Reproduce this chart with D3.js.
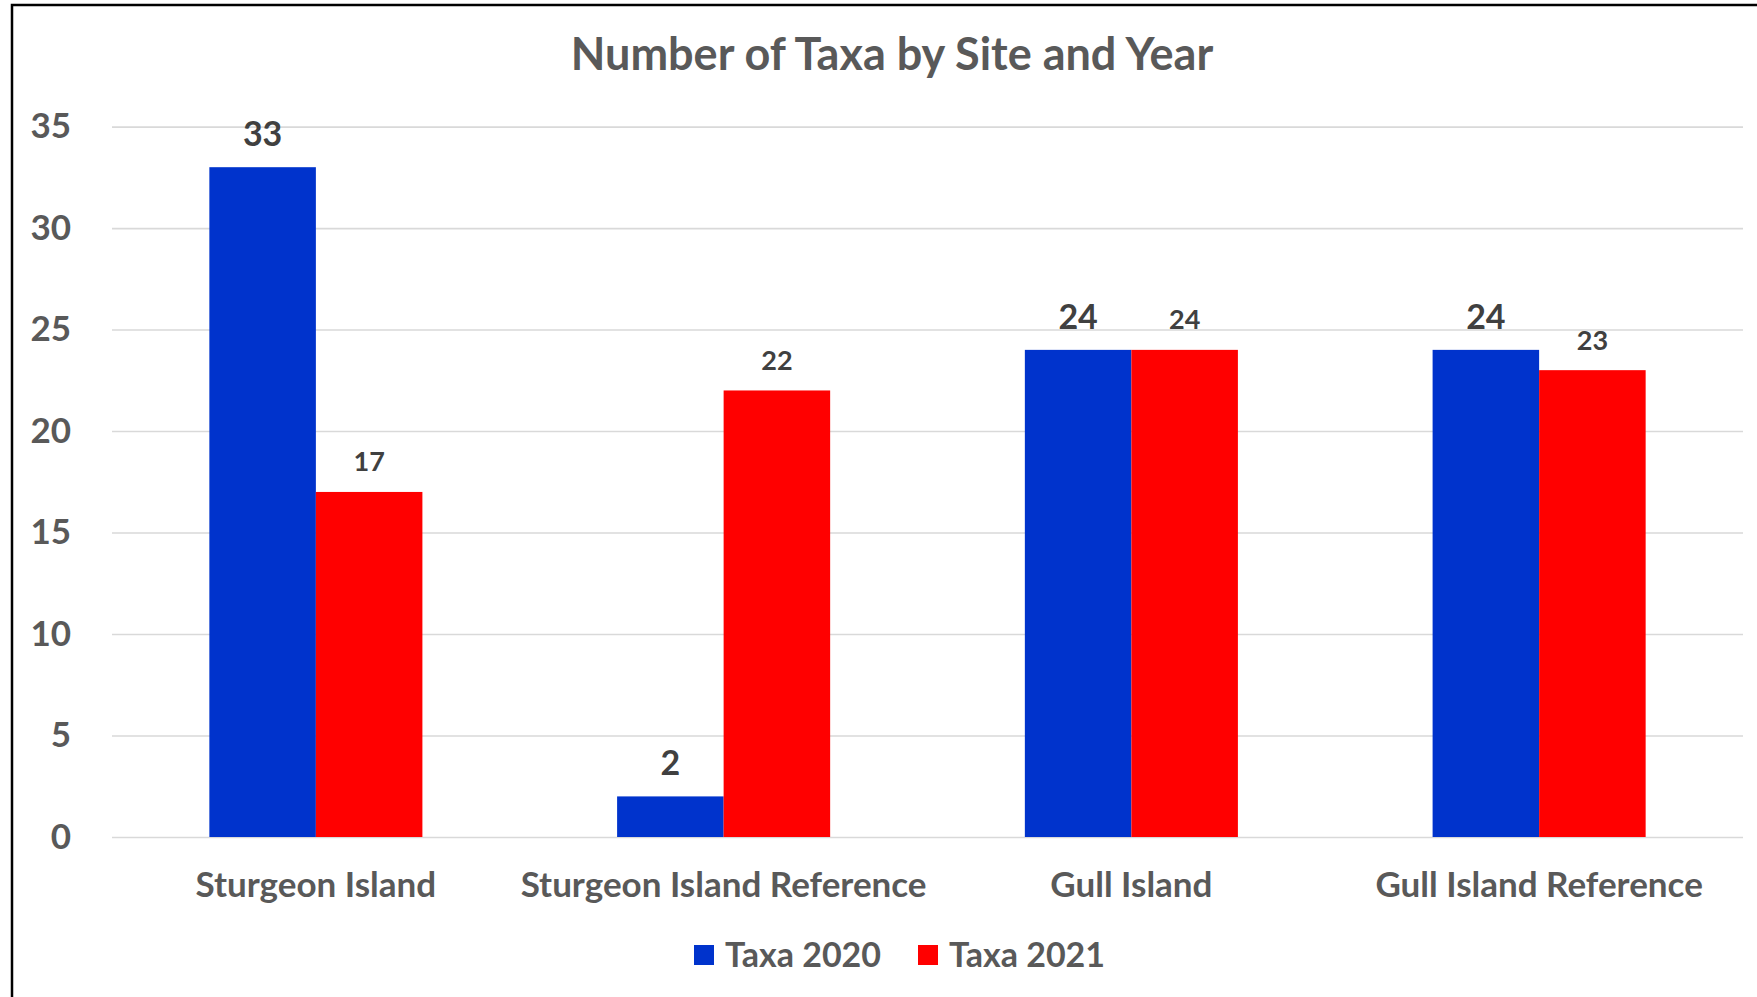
<!DOCTYPE html>
<html>
<head>
<meta charset="utf-8">
<script src="https://cdn.jsdelivr.net/npm/d3@7"></script>
<style>
  body { margin: 0; background: #fff; }
  text { font-family: Lato, "Open Sans", sans-serif; font-weight: bold; }
</style>
</head>
<body>
<div id="chart"></div>
<script>
const categories = ["Sturgeon Island", "Sturgeon Island Reference", "Gull Island", "Gull Island Reference"];
const seriesNames = ["Taxa 2020", "Taxa 2021"];
const taxa2020 = [33, 2, 24, 24];
const taxa2021 = [17, 22, 24, 23];
const yTicks = [0, 5, 10, 15, 20, 25, 30, 35];
const chartTitle = "Number of Taxa by Site and Year";

const W = 1757, H = 997;
const margin = { top: 126.6, right: 14, bottom: 160, left: 112 },
      width = W - margin.left - margin.right,
      height = H - margin.top - margin.bottom;

const colors = { "Taxa 2020": "#0033cc", "Taxa 2021": "#ff0000" };
const textGrey = "#595959";

const rows = categories.map((c, i) => ({
  cat: c,
  vals: [
    { s: "Taxa 2020", v: taxa2020[i] },
    { s: "Taxa 2021", v: taxa2021[i] }
  ]
}));

const svg = d3.select("#chart")
  .append("svg")
    .attr("width", W)
    .attr("height", H);

svg.append("rect").attr("width", W).attr("height", H).attr("fill", "#fff");

// frame (only left and top edges are visible in the original)
svg.append("rect")
  .attr("x", 12).attr("y", 5)
  .attr("width", W).attr("height", H)
  .attr("fill", "none")
  .attr("stroke", "#000")
  .attr("stroke-width", 2.5);

svg.append("text")
  .attr("x", 892).attr("y", 54)
  .attr("dy", "0.35em")
  .attr("text-anchor", "middle")
  .attr("fill", textGrey)
  .style("font-size", "45px")
  .text(chartTitle);

const g = svg.append("g")
  .attr("transform", `translate(${margin.left},${margin.top})`);

const x0 = d3.scaleBand().domain(categories).range([0, width]);
const groupW = x0.bandwidth() * 0.5225;
const x1 = d3.scaleBand()
  .domain(seriesNames)
  .range([(x0.bandwidth() - groupW) / 2, (x0.bandwidth() + groupW) / 2]);

const y = d3.scaleLinear().domain([0, 35]).range([height, 0]);

// y axis + gridlines
const yAxis = g.append("g")
  .call(d3.axisLeft(y).tickValues(yTicks).tickSize(-width).tickPadding(41));
yAxis.select(".domain").remove();
yAxis.selectAll(".tick line").attr("stroke", "#d9d9d9").attr("stroke-width", 1.6);
yAxis.selectAll(".tick text")
  .attr("fill", textGrey)
  .style("font-size", "35px")
  .style("font-family", "Lato, sans-serif");

// x axis
const xAxis = g.append("g")
  .attr("transform", `translate(0,${height})`)
  .call(d3.axisBottom(x0).tickSize(0).tickPadding(35));
xAxis.select(".domain").remove();
xAxis.selectAll(".tick text")
  .attr("fill", textGrey)
  .style("font-size", "35px")
  .style("font-family", "Lato, sans-serif");

const grp = g.selectAll(".grp")
  .data(rows)
  .join("g")
  .attr("class", "grp")
  .attr("transform", d => `translate(${x0(d.cat)},0)`);

grp.selectAll("rect")
  .data(d => d.vals)
  .join("rect")
  .attr("x", d => x1(d.s))
  .attr("y", d => y(d.v))
  .attr("width", x1.bandwidth())
  .attr("height", d => height - y(d.v))
  .attr("fill", d => colors[d.s]);

grp.selectAll(".lbl")
  .data(d => d.vals)
  .join("text")
  .attr("class", "lbl")
  .attr("x", d => x1(d.s) + x1.bandwidth() / 2)
  .attr("y", d => y(d.v) - (d.s === "Taxa 2020" ? 33 : 30))
  .attr("dy", "0.35em")
  .attr("text-anchor", "middle")
  .attr("fill", "#404040")
  .style("font-size", d => d.s === "Taxa 2020" ? "34px" : "27px")
  .text(d => d.v);

// legend
const legendX = [694, 918];
const legend = svg.selectAll(".legend")
  .data(seriesNames)
  .join("g")
  .attr("class", "legend")
  .attr("transform", (d, i) => `translate(${legendX[i]},955)`);

legend.append("rect")
  .attr("x", 0).attr("y", -10)
  .attr("width", 20).attr("height", 20)
  .attr("fill", d => colors[d]);

legend.append("text")
  .attr("x", 31)
  .attr("dy", "0.35em")
  .attr("fill", textGrey)
  .style("font-size", "34px")
  .text(d => d);
</script>
</body>
</html>
